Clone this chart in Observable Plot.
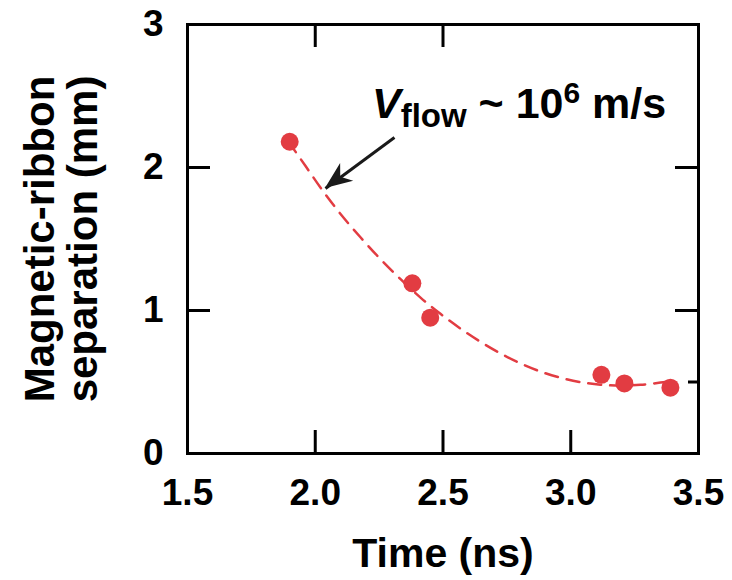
<!DOCTYPE html>
<html><head><meta charset="utf-8">
<script src="https://cdn.jsdelivr.net/npm/d3@7"></script>
<script src="https://cdn.jsdelivr.net/npm/@observablehq/plot@0.6"></script>
<style>
body{margin:0;background:#fff}
#chart{width:732px;height:580px}
</style>
</head><body><div id="chart"></div>
<script>
// Measured points
const timeNs = [1.90, 2.38, 2.45, 3.12, 3.21, 3.39];
const separationMm = [2.18, 1.19, 0.95, 0.55, 0.49, 0.46];
// Dashed fit curve
const fitTime = [1.895, 1.962, 2.028, 2.099, 2.177, 2.255, 2.334, 2.412, 2.490, 2.568, 2.646, 2.725, 2.803, 2.882, 2.960, 3.038, 3.116, 3.195, 3.273, 3.351, 3.410];
const fitSep  = [2.182, 2.010, 1.841, 1.675, 1.512, 1.360, 1.219, 1.090, 0.977, 0.874, 0.782, 0.700, 0.630, 0.573, 0.530, 0.499, 0.481, 0.475, 0.480, 0.496, 0.512];
// Tick labels
const xTicks = [1.5, 2.0, 2.5, 3.0, 3.5];
const yTicks = [0, 1, 2, 3];
const xTicksBottom = [2.0, 2.5, 3.0];
const xTicksTop = [2.0, 2.5];
const yTicksLeft = [1, 2];
const yTicksRight = [1, 2];
const yMinorRight = [0.5];
// Annotation
const arrowTail = {t: 2.31, s: 2.21};
const arrowTip = {t: 2.04, s: 1.853};
const annotAt = {t: 2.224, s: 2.343};
const xLabel = "Time (ns)";
const yLabel = "Magnetic-ribbon\nseparation (mm)";

const RED = "#e23c42";
const FONT = "'Liberation Sans', Arial, Helvetica, sans-serif";
const W = 732, H = 580, ML = 187, MR = 34, MT = 24, MB = 127;
const FW = W - ML - MR, FH = H - MT - MB;
const TICK = 23;

const points = timeNs.map((t, i) => ({t, s: separationMm[i]}));
const fit = fitTime.map((t, i) => ({t, s: fitSep[i]}));

const chart = Plot.plot({
  width: W, height: H,
  marginLeft: ML, marginRight: MR, marginTop: MT, marginBottom: MB,
  x: {domain: [1.5, 3.5], axis: null},
  y: {domain: [0, 3], axis: null},
  style: {fontFamily: FONT, background: "#fff", color: "#000"},
  marks: [
    Plot.ruleX(xTicksBottom, {x: d => d, insetTop: FH - TICK, stroke: "#000", strokeWidth: 3}),
    Plot.ruleX(xTicksTop, {x: d => d, insetBottom: FH - TICK, stroke: "#000", strokeWidth: 3}),
    Plot.ruleY(yTicksLeft, {y: d => d, insetRight: FW - TICK, stroke: "#000", strokeWidth: 3}),
    Plot.ruleY(yTicksRight, {y: d => d, insetLeft: FW - TICK, stroke: "#000", strokeWidth: 3}),
    Plot.ruleY(yMinorRight, {y: d => d, insetLeft: FW - 10, stroke: "#000", strokeWidth: 3}),
    Plot.frame({stroke: "#000", strokeWidth: 3}),
    Plot.text(xTicks, {x: d => d, frameAnchor: "bottom", text: d => d.toFixed(1), lineAnchor: "top", dy: 25, fontSize: 37, fontWeight: "bold", fill: "#000"}),
    Plot.text(yTicks, {y: d => d, frameAnchor: "left", text: d => String(d), textAnchor: "end", dx: -24, fontSize: 37, fontWeight: "bold", fill: "#000"}),
    Plot.text([xLabel], {frameAnchor: "bottom", text: d => d, lineAnchor: "middle", dy: 100, fontSize: 41, fontWeight: "bold", fill: "#000"}),
    Plot.text([yLabel], {frameAnchor: "left", text: d => d, rotate: -90, lineAnchor: "middle", textAnchor: "middle", dx: -126, fontSize: 42, lineHeight: 1.03, fontWeight: "bold", fill: "#000"}),
    Plot.line(fit, {x: "t", y: "s", stroke: RED, strokeWidth: 2.5, strokeDasharray: "13,9", curve: "catmull-rom"}),
    Plot.dot(points, {x: "t", y: "s", r: 9, fill: RED, stroke: "none"}),
    Plot.link([{a: arrowTail, b: arrowTip}], {x1: d => d.a.t, y1: d => d.a.s, x2: d => d.b.t, y2: d => d.b.s, stroke: "#1a1a1a", strokeWidth: 3})
  ]
});
document.getElementById("chart").appendChild(chart);

// arrow head + rich annotation text, positioned via the plot's scales
const sx = chart.scale("x"), sy = chart.scale("y");
const svg = d3.select(chart);
const tx = sx.apply(arrowTip.t), ty = sy.apply(arrowTip.s);
const ax = sx.apply(arrowTail.t), ay = sy.apply(arrowTail.s);
const len = Math.hypot(tx - ax, ty - ay);
const ux = (tx - ax) / len, uy = (ty - ay) / len;
const nx = -uy, ny = ux;
const hl = 27, hw = 11, notch = 19;
const pts = [
  [tx, ty],
  [tx - ux * hl + nx * hw, ty - uy * hl + ny * hw],
  [tx - ux * notch, ty - uy * notch],
  [tx - ux * hl - nx * hw, ty - uy * hl - ny * hw]
];
svg.append("polygon").attr("points", pts.map(p => p.join(",")).join(" ")).attr("fill", "#1a1a1a");

const t = svg.append("text")
  .attr("x", sx.apply(annotAt.t)).attr("y", sy.apply(annotAt.s))
  .attr("text-anchor", "start")
  .attr("font-family", FONT).attr("font-weight", "bold").attr("font-size", 43).attr("fill", "#000");
t.append("tspan").attr("font-style", "italic").text("V");
t.append("tspan").attr("font-size", 33).attr("dy", 9).text("flow");
t.append("tspan").attr("dy", -9).text(" ~ 10");
t.append("tspan").attr("font-size", 30).attr("dy", -15).text("6");
t.append("tspan").attr("dy", 15).text(" m/s");
</script>
</body></html>
